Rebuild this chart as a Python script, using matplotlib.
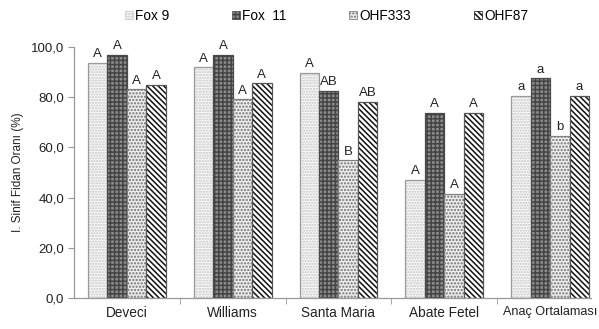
import numpy as np
import matplotlib.pyplot as plt
from matplotlib.patches import Patch

plt.rcParams['font.family'] = ['Liberation Sans', 'DejaVu Sans']
plt.rcParams['hatch.linewidth'] = 1.1

categories = ['Deveci', 'Williams', 'Santa Maria', 'Abate Fetel', 'Anaç Ortalaması']
series = ['Fox 9', 'Fox  11', 'OHF333', 'OHF87']
fox9 = [93.7, 91.9, 89.7, 47.2, 80.5]
fox11 = [96.8, 96.9, 82.5, 73.9, 87.5]
ohf333 = [83.1, 79.1, 54.8, 41.5, 64.5]
ohf87 = [84.8, 85.5, 78.0, 73.9, 80.4]
letters = [
    ['A', 'A', 'A', 'A', 'a'],
    ['A', 'A', 'AB', 'A', 'a'],
    ['A', 'A', 'B', 'A', 'b'],
    ['A', 'A', 'AB', 'A', 'a'],
]
yticks = [0, 20, 40, 60, 80, 100]

values = [fox9, fox11, ohf333, ohf87]
# face, hatch, hatch colour, outline
styles = [
    ('#fafafa', '......', '#c4c4c4', '#9a9a9a'),
    ('#8c8c8c', '++++', '#444444', '#4a4a4a'),
    ('#f0f0f0', '.....', '#707070', '#808080'),
    ('white', '\\\\\\\\\\\\', '#111111', '#555555'),
]

fig = plt.figure(figsize=(5.99, 3.29), dpi=100)
ax = fig.add_axes([74 / 599, 1 - 298 / 329, (591 - 74) / 599, (298 - 47) / 329])

x = np.arange(len(categories))
w = 0.184
for i, vals in enumerate(values):
    face, hatch, hcol, ecol = styles[i]
    pos = x + (i - 1.5) * w
    ax.bar(pos, vals, w, color=face, hatch=hatch, edgecolor=hcol, linewidth=0)
    ax.bar(pos, vals, w, fill=False, edgecolor=ecol, linewidth=0.9)
    for px, v, lab in zip(pos, vals, letters[i]):
        ax.annotate(lab, (px, v), xytext=(0, 2), textcoords='offset points',
                    ha='center', va='bottom', fontsize=9.5, color='#222222')

ax.set_xlim(-0.5, 4.387)
ax.set_ylim(0, 100)
ax.set_yticks(yticks)
ax.set_yticklabels([f'{t:.1f}'.replace('.', ',') for t in yticks], fontsize=9.5, color='#222222')
ax.set_xticks(x)
ax.set_xticklabels(categories, fontsize=9.8, color='#222222')
ax.get_xticklabels()[-1].set_fontsize(9.1)
ax.set_xticks(np.arange(0.5, 4, 1), minor=True)
ax.tick_params(axis='x', which='major', length=0, pad=6)
ax.tick_params(axis='x', which='minor', length=4, color='#999999')
ax.tick_params(axis='y', length=4, color='#999999', pad=3)
for s in ['top', 'right']:
    ax.spines[s].set_visible(False)
for s in ['left', 'bottom']:
    ax.spines[s].set_color('#999999')
    ax.spines[s].set_linewidth(0.9)
ax.set_ylabel('I. Sinif Fidan Oranı (%)', fontsize=8.5, color='#222222', labelpad=5)

handles = [Patch(facecolor=st[0], hatch=st[1], edgecolor=st[2], linewidth=0.5) for st in styles]
fig.legend(handles, series, loc='upper center', bbox_to_anchor=(0.545, 1.01), ncol=4,
           frameon=False, fontsize=9.8, handlelength=0.6, handleheight=0.6,
           handletextpad=0.15, columnspacing=4.6)

fig.savefig('out.png', dpi=100)
